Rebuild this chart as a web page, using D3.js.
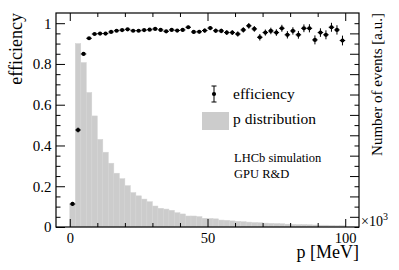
<!DOCTYPE html>
<html><head><meta charset="utf-8">
<script src="https://cdn.jsdelivr.net/npm/d3@7"></script>
<style>
html,body{margin:0;padding:0;background:#fff;}
svg text{font-family:"Liberation Serif","DejaVu Serif",serif;fill:#000;}
</style></head>
<body><svg id="c" width="399" height="270"></svg>
<script>
// bin edges: 50 bins of width 2 MeV from 0 to 100
const binLow = d3.range(0, 100, 2);
// p distribution (normalised, drawn in left-axis units)
const histValues = [0.113,0.900,0.807,0.660,0.545,0.430,0.367,0.313,0.264,0.237,
  0.203,0.169,0.153,0.137,0.124,0.103,0.092,0.088,0.082,0.070,
  0.064,0.054,0.054,0.051,0.043,0.042,0.040,0.034,0.033,0.030,
  0.028,0.026,0.024,0.022,0.021,0.019,0.018,0.017,0.016,0.014,
  0.013,0.012,0.012,0.011,0.010,0.009,0.009,0.008,0.007,0.007];
// efficiency per bin
const effValues = [0.113,0.476,0.849,0.926,0.947,0.949,0.949,0.957,0.963,0.966,
  0.970,0.963,0.963,0.966,0.968,0.972,0.967,0.960,0.967,0.964,
  0.967,0.980,0.957,0.958,0.964,0.976,0.963,0.962,0.954,0.954,
  0.947,0.967,0.987,0.972,0.931,0.954,0.962,0.954,0.975,0.943,
  0.962,0.943,0.975,0.975,0.918,0.954,0.943,0.980,0.967,0.915];
const effErrors = [0.010,0.012,0.007,0.004,0.004,0.004,0.004,0.004,0.004,0.004,
  0.005,0.005,0.005,0.005,0.006,0.006,0.006,0.007,0.007,0.007,
  0.008,0.008,0.009,0.009,0.010,0.010,0.011,0.011,0.012,0.012,
  0.013,0.013,0.014,0.014,0.016,0.015,0.016,0.016,0.017,0.018,
  0.018,0.019,0.019,0.020,0.022,0.021,0.022,0.022,0.023,0.024];
const xMajorTicks = [0, 50, 100];
const xMinorTicks = [10, 20, 30, 40, 60, 70, 80, 90];
const yMajorTicks = [0, 0.2, 0.4, 0.6, 0.8, 1];
const yMinorTicks = d3.range(0, 21).map(k => k * 0.05).filter(v => Math.abs(v*5 - Math.round(v*5)) > 1e-6);
const rightTicks = d3.range(0, 21).map(k => k * 0.05);

const svg = d3.select("#c");
const L = 56, R = 359, T = 13, B = 227;
const x = d3.scaleLinear().domain([-5, 105]).range([L, R]);
const y = d3.scaleLinear().domain([0, 1.05]).range([B, T]);
const yR = d3.scaleLinear().domain([0, 1.05]).range([B, T]);
const binW = 2;

// histogram
svg.append("g").selectAll("rect").data(binLow).join("rect")
  .attr("x", (d) => x(d))
  .attr("width", (d) => x(d + binW) - x(d))
  .attr("y", (d, i) => y(histValues[i]))
  .attr("height", (d, i) => y(0) - y(histValues[i]))
  .attr("fill", "#cccccc")
  .attr("stroke", "#d4d4d4").attr("stroke-width", 0.5);

// efficiency points
const pts = svg.append("g");
binLow.forEach((lo, i) => {
  const cx = x(lo + binW / 2), cy = y(effValues[i]);
  pts.append("line").attr("x1", x(lo)).attr("x2", x(lo + binW)).attr("y1", cy).attr("y2", cy)
    .attr("stroke", "#000").attr("stroke-width", 1);
  pts.append("line").attr("x1", cx).attr("x2", cx)
    .attr("y1", y(effValues[i] + effErrors[i])).attr("y2", y(effValues[i] - effErrors[i]))
    .attr("stroke", "#000").attr("stroke-width", 1);
  pts.append("circle").attr("cx", cx).attr("cy", cy).attr("r", 2.1).attr("fill", "#000");
});

// axes
function noDomain(g){ g.select(".domain").remove(); g.selectAll("line").attr("stroke","#000"); }
svg.append("g").attr("transform", `translate(0,${B})`)
  .call(d3.axisBottom(x).tickValues(xMajorTicks).tickSize(-8).tickPadding(5.5).tickFormat(d3.format("d")))
  .call(noDomain)
  .call(g => g.selectAll("text").attr("font-size", 14.5).attr("font-family", "Liberation Serif"));
svg.append("g").attr("transform", `translate(0,${B})`)
  .call(d3.axisBottom(x).tickValues(xMinorTicks).tickSize(-4).tickFormat(""))
  .call(noDomain);
svg.append("g").attr("transform", `translate(0,${T})`)
  .call(d3.axisTop(x).tickValues(xMajorTicks).tickSize(-8).tickFormat(""))
  .call(noDomain);
svg.append("g").attr("transform", `translate(0,${T})`)
  .call(d3.axisTop(x).tickValues(xMinorTicks).tickSize(-4).tickFormat(""))
  .call(noDomain);
svg.append("g").attr("transform", `translate(${L},0)`)
  .call(d3.axisLeft(y).tickValues(yMajorTicks).tickSize(-9).tickPadding(4.5).tickFormat(d3.format("~g")))
  .call(noDomain)
  .call(g => g.selectAll("text").attr("font-size", 15).attr("font-family", "Liberation Serif"));
svg.append("g").attr("transform", `translate(${L},0)`)
  .call(d3.axisLeft(y).tickValues(yMinorTicks).tickSize(-4.5).tickFormat(""))
  .call(noDomain);
svg.append("g").attr("transform", `translate(${R},0)`)
  .call(d3.axisRight(yR).tickValues(rightTicks.filter((d,k)=>k%2===1)).tickSize(-9).tickFormat(""))
  .call(noDomain);
svg.append("g").attr("transform", `translate(${R},0)`)
  .call(d3.axisRight(yR).tickValues(rightTicks.filter((d,k)=>k%2===0)).tickSize(-4.5).tickFormat(""))
  .call(noDomain);

// frame
svg.append("rect").attr("x", L).attr("y", T).attr("width", R - L).attr("height", B - T)
  .attr("fill", "none").attr("stroke", "#000").attr("stroke-width", 1.2);

// axis titles
svg.append("text").attr("transform", `translate(22,${T}) rotate(-90)`).attr("text-anchor", "end")
  .attr("font-size", 18).text("efficiency");
svg.append("text").attr("x", R).attr("y", 257.5).attr("text-anchor", "end")
  .attr("font-size", 18).text("p [MeV]");
svg.append("text").attr("transform", `translate(382,${T}) rotate(-90)`).attr("text-anchor", "end")
  .attr("font-size", 15).text("Number of events [a.u.]");
const mult = svg.append("text").attr("x", 361).attr("y", 226).attr("font-size", 14);
mult.append("tspan").text("×10");
mult.append("tspan").attr("dy", -6).attr("font-size", 10).text("3");

// legend
const lg = svg.append("g");
lg.append("line").attr("x1", 214).attr("x2", 214).attr("y1", 86).attr("y2", 102).attr("stroke", "#000");
lg.append("line").attr("x1", 211.5).attr("x2", 216.5).attr("y1", 86).attr("y2", 86).attr("stroke", "#000");
lg.append("line").attr("x1", 211.5).attr("x2", 216.5).attr("y1", 102).attr("y2", 102).attr("stroke", "#000");
lg.append("circle").attr("cx", 214).attr("cy", 94).attr("r", 2.1).attr("fill", "#000");
lg.append("text").attr("x", 233).attr("y", 99).attr("font-size", 15.5).text("efficiency");
lg.append("rect").attr("x", 202).attr("y", 112).attr("width", 27).attr("height", 18).attr("fill", "#cccccc");
lg.append("text").attr("x", 233).attr("y", 124).attr("font-size", 15.5).text("p distribution");
svg.append("text").attr("x", 234).attr("y", 162).attr("font-size", 12.5).text("LHCb simulation");
svg.append("text").attr("x", 234).attr("y", 177.5).attr("font-size", 12.5).text("GPU R&D");
</script></body></html>
